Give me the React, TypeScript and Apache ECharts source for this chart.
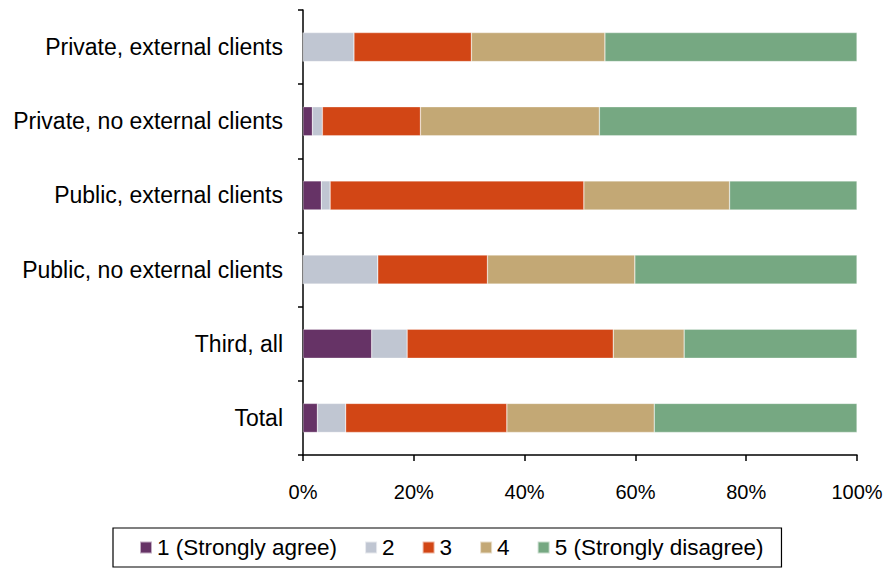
import React, { useEffect, useRef } from "react";
import * as echarts from "echarts";

const categories = [
  "Private, external clients",
  "Private, no external clients",
  "Public, external clients",
  "Public, no external clients",
  "Third, all",
  "Total",
];
const seriesNames = ["1 (Strongly agree)", "2", "3", "4", "5 (Strongly disagree)"];
const s1 = [0, 1.7, 3.3, 0, 12.4, 2.6];
const s2 = [9.2, 1.8, 1.6, 13.5, 6.4, 5.1];
const s3 = [21.2, 17.7, 45.8, 19.8, 37.2, 29.1];
const s4 = [24.1, 32.3, 26.3, 26.6, 12.8, 26.6];
const s5 = [45.5, 46.5, 23.0, 40.1, 31.2, 36.6];
const colors = ["#663366", "#C0C6D2", "#D24615", "#C3A875", "#76A882"];
const xTicks = [0, 20, 40, 60, 80, 100];

const FONT = "Liberation Sans, Arial, sans-serif";

export default function App() {
  const ref = useRef<HTMLDivElement>(null);
  useEffect(() => {
    document.body.style.margin = "0";
    if (!ref.current) return;
    const chart = echarts.init(ref.current, null, { renderer: "svg" });
    const data = [s1, s2, s3, s4, s5];
    chart.setOption({
      animation: false,
      textStyle: { fontFamily: FONT },
      grid: { left: 303, right: 33, top: 10, bottom: 115, containLabel: false },
      legend: {
        top: 528,
        left: 113,
        itemWidth: 12,
        itemHeight: 12,
        itemGap: 27,
        icon: "rect",
        borderColor: "#000",
        borderWidth: 1.2,
        padding: [8, 18, 8, 26],
        textStyle: { fontSize: 22.5, color: "#000", fontFamily: FONT },
        data: seriesNames,
      },
      xAxis: {
        type: "value",
        min: xTicks[0],
        max: xTicks[xTicks.length - 1],
        interval: 20,
        axisLine: { show: true, lineStyle: { color: "#000", width: 1.5 } },
        axisTick: { show: true, length: 6, lineStyle: { color: "#000", width: 1.5 } },
        splitLine: { show: false },
        axisLabel: { formatter: "{value}%", fontSize: 20, color: "#000", margin: 27 },
      },
      yAxis: {
        type: "category",
        inverse: true,
        data: categories,
        axisLine: { show: true, lineStyle: { color: "#000", width: 1.5 } },
        axisTick: { show: true, length: 5, lineStyle: { color: "#000", width: 1.5 } },
        axisLabel: { fontSize: 23, color: "#000", margin: 20 },
      },
      series: data.map((d, i) => ({
        name: seriesNames[i],
        type: "bar",
        stack: "total",
        barWidth: 29,
        itemStyle: { color: colors[i], borderColor: "rgba(255,255,255,0.6)", borderWidth: 0.5 },
        data: d,
      })),
    });
    return () => chart.dispose();
  }, []);
  return <div ref={ref} style={{ width: 890, height: 570 }} />;
}
